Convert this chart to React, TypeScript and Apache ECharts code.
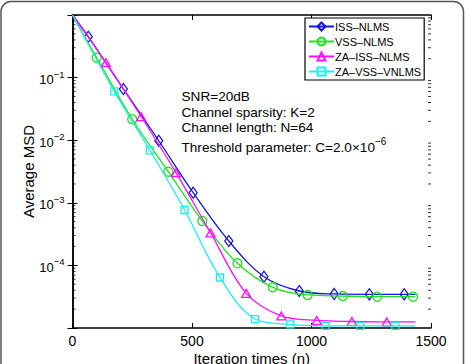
import React, { useEffect, useRef } from "react";
import * as echarts from "echarts";

// Iteration index and average MSD of each algorithm (markers sit on every point except the first and last)
const issN = [0, 66, 213, 361, 505, 654, 801, 949, 1095, 1242, 1388, 1435];
const issMSD = [1.0, 0.45, 0.0658, 0.0098, 1.45e-3, 2.45e-4, 6.6e-5, 3.9e-5, 3.5e-5, 3.45e-5, 3.45e-5, 3.45e-5];

const vssN = [0, 101, 250, 401, 543, 690, 838, 984, 1131, 1275, 1425, 1435];
const vssMSD = [1.0, 0.208, 0.0216, 3.14e-3, 5.12e-4, 1.08e-4, 4.47e-5, 3.37e-5, 3.24e-5, 3.16e-5, 3.16e-5, 3.16e-5];

const zaIssN = [0, 140, 287, 433, 578, 727, 874, 1022, 1169, 1315, 1435];
const zaIssMSD = [1.0, 0.173, 0.0239, 3.03e-3, 3.3e-4, 3.58e-5, 1.56e-5, 1.32e-5, 1.27e-5, 1.25e-5, 1.25e-5];

const zaVssN = [0, 175, 324, 469, 617, 764, 911, 1059, 1204, 1351, 1435];
const zaVssMSD = [1.0, 0.0604, 6.9e-3, 7.67e-4, 6.41e-5, 1.39e-5, 1.14e-5, 1.08e-5, 1.08e-5, 1.08e-5, 1.08e-5];

const seriesNames = ["ISS–NLMS", "VSS–NLMS", "ZA–ISS–NLMS", "ZA–VSS–VNLMS"];
const seriesColors = ["#1414dc", "#22e022", "#ff10ff", "#18f0f0"];
const seriesSymbols = ["diamond", "circle", "triangle", "rect"];
const seriesSymbolSizes: (number | number[])[] = [[8, 11], 9, [9, 8], 7];

const xTicks = [0, 500, 1000, 1500];
const yDecades = [-5, -4, -3, -2, -1, 0];
const yLabelledDecades = [-1, -2, -3, -4];

const annotationLines = [
  "SNR=20dB",
  "Channel sparsity: K=2",
  "Channel length: N=64",
];
const thresholdText = "Threshold parameter: C=2.0×10";
const thresholdExp = "−6";

const FONT = "'Liberation Sans', Arial, Helvetica, sans-serif";

function buildLine(ns: number[], vs: number[]) {
  const last = ns.length - 1;
  return ns.map((n, i) =>
    i === 0 || i === last ? { value: [n, vs[i]], symbol: "none" } : { value: [n, vs[i]] }
  );
}

// minor tick positions of the log axis: 2..9 × 10^k inside each decade
const minorTickValues: number[] = [];
for (let k = yDecades[0]; k < yDecades[yDecades.length - 1]; k++) {
  for (let m = 2; m <= 9; m++) minorTickValues.push(m * Math.pow(10, k));
}

export default function App() {
  const ref = useRef<HTMLDivElement>(null);

  useEffect(() => {
    if (!ref.current) return;
    const chart = echarts.init(ref.current, undefined, { renderer: "svg" });

    const lineData = [
      buildLine(issN, issMSD),
      buildLine(vssN, vssMSD),
      buildLine(zaIssN, zaIssMSD),
      buildLine(zaVssN, zaVssMSD),
    ];

    const axisLine = { show: true, lineStyle: { color: "#000", width: 1.5 } };
    const xMin = xTicks[0];
    const xMax = xTicks[xTicks.length - 1];
    const yMin = Math.pow(10, yDecades[0]);
    const yMax = Math.pow(10, yDecades[yDecades.length - 1]);

    const lineSeries = lineData.map((data, i) => ({
      type: "line",
      name: seriesNames[i],
      data,
      smooth: 0.35,
      symbol: seriesSymbols[i],
      symbolSize: seriesSymbolSizes[i],
      showAllSymbol: true,
      lineStyle: { color: seriesColors[i], width: 1.3 },
      itemStyle: { color: "rgba(255,255,255,0)", borderColor: seriesColors[i], borderWidth: 1.3 },
      emphasis: { disabled: true },
      z: 3 + i,
    }));

    const option: any = {
      animation: false,
      backgroundColor: "#fff",
      textStyle: { fontFamily: FONT },
      grid: {
        left: 72.5,
        top: 15,
        right: 34,
        bottom: 36,
        containLabel: false,
        outerBoundsMode: "none",
      },
      legend: {
        data: seriesNames,
        orient: "vertical",
        left: 305,
        top: 18,
        itemWidth: 25,
        itemHeight: 10,
        itemGap: 4,
        padding: [3, 3, 3, 3],
        borderColor: "#000",
        borderWidth: 1.2,
        borderRadius: 0,
        backgroundColor: "#fff",
        selectedMode: false,
        textStyle: { fontSize: 11, color: "#000", fontFamily: FONT, padding: [0, 0, 0, -4] },
      },
      xAxis: [
        {
          type: "value",
          min: xMin,
          max: xMax,
          interval: 500,
          position: "bottom",
          axisLine,
          axisTick: { inside: true, length: 5, lineStyle: { color: "#000", width: 1 } },
          axisLabel: {
            fontSize: 14,
            color: "#000",
            margin: 6,
            fontFamily: FONT,
            formatter: (v: number) => String(v),
          },
          splitLine: { show: false },
          name: "Iteration times (n)",
          nameLocation: "middle",
          nameGap: 23,
          nameMoveOverlap: false,
          nameTextStyle: { fontSize: 15, color: "#000", fontFamily: FONT },
        },
        {
          type: "value",
          min: xMin,
          max: xMax,
          interval: 500,
          position: "top",
          axisLine,
          axisTick: { inside: true, length: 5, lineStyle: { color: "#000", width: 1 } },
          axisLabel: { show: false },
          splitLine: { show: false },
        },
      ],
      yAxis: [
        {
          type: "log",
          logBase: 10,
          min: yMin,
          max: yMax,
          position: "left",
          axisLine,
          axisTick: { inside: true, length: 5, lineStyle: { color: "#000", width: 1 } },
          axisLabel: {
            margin: 8,
            color: "#000",
            fontFamily: FONT,
            formatter: (v: number) => {
              const e = Math.round(Math.log10(v));
              if (!yLabelledDecades.includes(e)) return "";
              return `{b|10}{s|−${-e}}`;
            },
            rich: {
              b: { fontSize: 13, color: "#000", fontFamily: FONT, lineHeight: 17, verticalAlign: "bottom" },
              s: { fontSize: 9.5, color: "#000", fontFamily: FONT, verticalAlign: "top" },
            },
          },
          splitLine: { show: false },
          name: "Average MSD",
          nameLocation: "middle",
          nameGap: 37,
          nameMoveOverlap: false,
          nameTextStyle: { fontSize: 15, color: "#000", fontFamily: FONT },
        },
        {
          type: "log",
          logBase: 10,
          min: yMin,
          max: yMax,
          position: "right",
          axisLine,
          axisTick: { inside: true, length: 5, lineStyle: { color: "#000", width: 1 } },
          axisLabel: { show: false },
          splitLine: { show: false },
        },
      ],
      series: [
        ...lineSeries,
        {
          type: "custom",
          name: "minorTicks",
          silent: true,
          xAxisIndex: 0,
          yAxisIndex: 0,
          data: minorTickValues.map((v) => [xMin, v]),
          renderItem: (_params: any, api: any) => {
            const v = api.value(1);
            const pl = api.coord([xMin, v]);
            const pr = api.coord([xMax, v]);
            const style = { stroke: "#000", lineWidth: 0.8 };
            return {
              type: "group",
              children: [
                { type: "line", shape: { x1: pl[0], y1: pl[1], x2: pl[0] + 3, y2: pl[1] }, style },
                { type: "line", shape: { x1: pr[0] - 3, y1: pr[1], x2: pr[0], y2: pr[1] }, style },
              ],
            };
          },
          z: 2,
        },
      ],
      graphic: [
        {
          type: "rect",
          silent: true,
          z: -10,
          shape: { x: 1, y: 1.5, width: 462.5, height: 420, r: 10 },
          style: { fill: "none", stroke: "#555", lineWidth: 1.5 },
        },
        ...annotationLines.map((t, i) => ({
          type: "text",
          silent: true,
          z: 10,
          x: 181.5,
          y: 96.5 + i * 15.5,
          style: {
            text: t,
            fontSize: 13.6,
            fontFamily: FONT,
            fill: "#000",
            verticalAlign: "middle",
            align: "left",
          },
        })),
        {
          type: "text",
          silent: true,
          z: 10,
          x: 181.5,
          y: 145,
          style: {
            text: `{a|${thresholdText}}{s|${thresholdExp}}`,
            fontFamily: FONT,
            fill: "#000",
            verticalAlign: "middle",
            align: "left",
            rich: {
              a: { fontSize: 13.6, fontFamily: FONT, fill: "#000", lineHeight: 18, verticalAlign: "bottom" },
              s: { fontSize: 10, fontFamily: FONT, fill: "#000", verticalAlign: "top" },
            },
          },
        },
      ],
    };

    chart.setOption(option);
    return () => chart.dispose();
  }, []);

  return (
    <div
      ref={ref}
      style={{ position: "fixed", left: 0, top: 0, width: 465, height: 364, background: "#fff" }}
    />
  );
}
